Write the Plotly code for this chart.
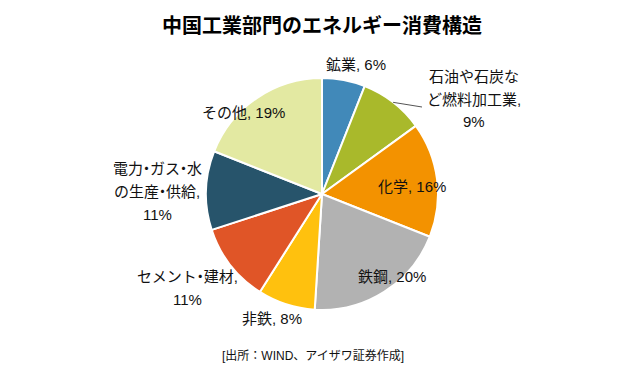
import math
import plotly.graph_objects as go

categories = ["鉱業", "石油や石炭など燃料加工業", "化学", "鉄鋼", "非鉄", "セメント・建材", "電力・ガス・水の生産・供給", "その他"]
values = [6, 9, 16, 20, 8, 11, 11, 19]
colors = ["#4189b9", "#a9b92b", "#f39200", "#b2b2b2", "#ffc10e", "#e05527", "#27546b", "#e3e9a2"]
label_lines = [
    ["鉱業, 6%"],
    ["石油や石炭な", "ど燃料加工業,", "9%"],
    ["化学, 16%"],
    ["鉄鋼, 20%"],
    ["非鉄, 8%"],
    ["セメント・建材,", "11%"],
    ["電力・ガス・水", "の生産・供給,", "11%"],
    ["その他, 19%"],
]
# label placement (pixel centres in the 640x374 window, first line) and line spacing
label_pos = [(356, 65), (474, 76), (412, 186), (392, 276), (272, 318), (188, 276), (157, 168), (243, 112)]
line_gap = 23

OFF = 8  # browser body margin
W, H = 640 - 2 * OFF, 374 - 2 * OFF
cx, cy, R = 322 - OFF, 194 - OFF, 116

FONT = "Liberation Sans, Noto Sans CJK JP"


def px2paper(x, y):
    return (x - OFF) / W, 1 - (y - OFF) / H


def narrow_dot(s):
    # render the katakana middle dot narrow, as in the original
    out = ""
    i = 0
    while i < len(s):
        if i + 1 < len(s) and s[i + 1] == "・":
            out += '<span style="letter-spacing:-4px">' + s[i] + "・</span>"
            i += 2
        else:
            out += s[i]
            i += 1
    return out


fig = go.Figure(go.Pie(
    labels=categories,
    values=values,
    marker=dict(colors=colors, line=dict(color="white", width=2)),
    sort=False,
    direction="clockwise",
    rotation=0,
    textinfo="none",
    showlegend=False,
    domain=dict(x=[(cx - R) / W, (cx + R) / W], y=[1 - (cy + R) / H, 1 - (cy - R) / H]),
))

annotations = []
for (px, py), lines in zip(label_pos, label_lines):
    for i, t in enumerate(lines):
        ax_, ay_ = px2paper(px, py + i * line_gap)
        annotations.append(dict(
            x=ax_, y=ay_, xref="paper", yref="paper",
            text=narrow_dot(t), showarrow=False, xanchor="center", yanchor="middle",
            font=dict(family=FONT, size=15, color="#111111"),
        ))

tx, ty = px2paper(322, 25)
annotations.append(dict(
    x=tx, y=ty, xref="paper", yref="paper",
    text="<b>中国工業部門のエネルギー消費構造</b>", showarrow=False,
    xanchor="center", yanchor="middle",
    font=dict(family="Noto Sans CJK JP", size=20, color="#000000"),
))
sx, sy = px2paper(313, 355)
annotations.append(dict(
    x=sx, y=sy, xref="paper", yref="paper",
    text="[出所：WIND、アイザワ証券作成]", showarrow=False,
    xanchor="center", yanchor="middle",
    font=dict(family=FONT, size=12, color="#111111"),
))

# leader line for the second slice, from its outer edge midpoint
total = sum(values)
mid = (values[0] + values[1] / 2) / total * 2 * math.pi
ex, ey = cx + R * math.sin(mid), cy - R * math.cos(mid)
lx, ly = px2paper(422, 107)
shapes = [dict(type="line", xref="paper", yref="paper",
               x0=ex / W, y0=1 - ey / H, x1=lx, y1=ly,
               line=dict(color="#555555", width=1))]

fig.update_layout(
    width=W, height=H,
    margin=dict(l=0, r=0, t=0, b=0),
    paper_bgcolor="white", plot_bgcolor="white",
    annotations=annotations, shapes=shapes,
)
fig.write_html("out.html")
